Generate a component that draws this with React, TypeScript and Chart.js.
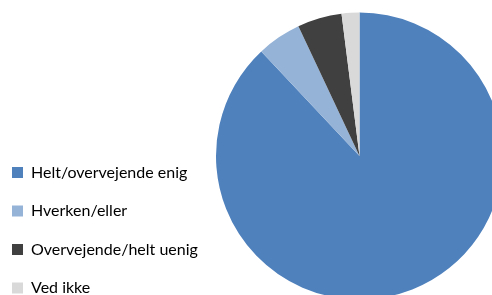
import React, { useEffect, useRef } from "react";
import { Chart, registerables } from "chart.js";

Chart.register(...registerables);

const categories = ["Helt/overvejende enig", "Hverken/eller", "Overvejende/helt uenig", "Ved ikke"];
const values = [88, 5, 5, 2];
const colors = ["#4F81BD", "#95B3D7", "#404040", "#D9D9D9"];

const FONT_SIZE = 16;
const FONT_FAMILY = "Lato";
const BOX = 11;
const PAD = 22.5;
const OFFSET_X = 11;
const OFFSET_Y = 7;
const CANVAS_H = 326;
const CENTER_X = 359.5 + OFFSET_X;
const PAD_LEFT = 0.5;

function measureLongest(): number {
  const c = document.createElement("canvas").getContext("2d")!;
  c.font = `${FONT_SIZE}px ${FONT_FAMILY}`;
  return Math.max(...categories.map((t) => c.measureText(t).width));
}

export default function App() {
  const ref = useRef<HTMLCanvasElement | null>(null);
  const longest = measureLongest();
  const legendW = PAD + BOX + FONT_SIZE / 2 + longest + 10;
  const left = PAD_LEFT + legendW;
  const right = 2 * CENTER_X - left;
  const canvasW = Math.ceil(right);
  const padRight = canvasW - right;

  useEffect(() => {
    if (!ref.current) return;
    const chart = new Chart(ref.current, {
      type: "pie",
      data: {
        labels: categories,
        datasets: [
          {
            data: values,
            backgroundColor: colors,
            borderWidth: 0,
            radius: 143.5,
          },
        ],
      },
      options: {
        responsive: false,
        animation: false,
        layout: { padding: { left: PAD_LEFT, right: padRight, top: 0.5, bottom: 0.5 } },
        plugins: {
          tooltip: { enabled: false },
          legend: {
            position: "left",
            align: "end",
            labels: {
              boxWidth: BOX,
              boxHeight: BOX,
              padding: PAD,
              color: "#000",
              font: { family: FONT_FAMILY, size: FONT_SIZE },
            },
          },
        },
      },
    });
    return () => chart.destroy();
  }, []);
  return (
    <div style={{ position: "absolute", left: 0, top: 0, width: 492, height: 295, overflow: "hidden", background: "#fff" }}>
      <canvas
        ref={ref}
        width={canvasW}
        height={CANVAS_H}
        style={{ position: "absolute", left: -OFFSET_X, top: -OFFSET_Y, width: canvasW, height: CANVAS_H }}
      />
    </div>
  );
}
